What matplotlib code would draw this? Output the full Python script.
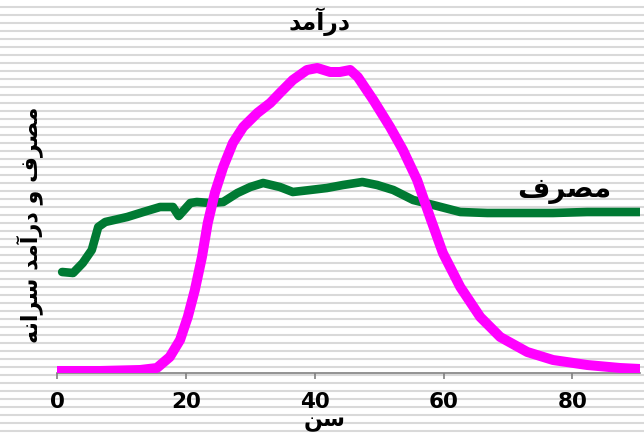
import numpy as np
import matplotlib
matplotlib.use("Agg")
import matplotlib.pyplot as plt

# age (years) and per-capita values
income_age = [0, 6.7, 12.9, 15.5, 17.5, 19.1, 20.3, 21.4, 22.5, 23.4, 24.5, 25.8,
              27.3, 28.9, 31.1, 33.1, 34.6, 36.6, 38.8, 40.4, 42.4, 43.9, 45.5,
              46.7, 49.1, 51.7, 53.7, 55.9, 57.9, 59.9, 62.6, 65.7, 68.8, 73.0,
              77.0, 82.3, 87.4, 90.5]
income_val = [2, 2, 3, 5, 16, 33, 56, 83, 116, 150, 180, 206,
              230, 246, 260, 270, 280, 293, 303, 305, 301, 301, 303,
              296, 273, 246, 223, 193, 156, 120, 86, 56, 36, 21,
              13, 8, 5, 4]

cons_age = [0.8, 2.5, 4.0, 5.4, 6.4, 7.5, 10.9, 13.4, 16.0, 18.0, 18.9, 20.7,
            21.7, 23.8, 25.8, 28.0, 30.0, 32.0, 34.6, 36.6, 39.3, 41.9, 44.4,
            47.4, 49.7, 52.2, 55.3, 58.4, 62.6, 66.8, 71.9, 77.0, 82.3, 90.5]
cons_val = [101, 100, 110, 123, 146, 151, 156, 161, 166, 166, 157, 170,
            171, 170, 171, 180, 186, 190, 186, 181, 183, 185, 188,
            191, 188, 183, 173, 168, 161, 160, 160, 160, 161, 161]

x_ticks = [0, 20, 40, 60, 80]

title_txt = "درآمد"
cons_txt = "مصرف"
ylabel_txt = "مصرف و درآمد سرانه"
xlabel_txt = "سن"

# simple Arabic shaping (matplotlib has no text shaping)
FORMS = {  # isolated, final, initial, medial
    "ا": ("\uFE8D", "\uFE8E", None, None),
    "آ": ("\uFE81", "\uFE82", None, None),
    "د": ("\uFEA9", "\uFEAA", None, None),
    "ر": ("\uFEAD", "\uFEAE", None, None),
    "و": ("\uFEED", "\uFEEE", None, None),
    "م": ("\uFEE1", "\uFEE2", "\uFEE3", "\uFEE4"),
    "ص": ("\uFEB9", "\uFEBA", "\uFEBB", "\uFEBC"),
    "ف": ("\uFED1", "\uFED2", "\uFED3", "\uFED4"),
    "س": ("\uFEB1", "\uFEB2", "\uFEB3", "\uFEB4"),
    "ن": ("\uFEE5", "\uFEE6", "\uFEE7", "\uFEE8"),
    "ه": ("\uFEE9", "\uFEEA", "\uFEEB", "\uFEEC"),
}


def shape(text):
    out = []
    for i, ch in enumerate(text):
        if ch not in FORMS:
            out.append(ch)
            continue
        prev = text[i - 1] if i > 0 else ""
        nxt = text[i + 1] if i + 1 < len(text) else ""
        join_prev = prev in FORMS and FORMS[prev][2] is not None
        join_next = nxt in FORMS and FORMS[ch][2] is not None
        iso, fin, ini, med = FORMS[ch]
        if join_prev and join_next:
            out.append(med)
        elif join_prev:
            out.append(fin)
        elif join_next:
            out.append(ini)
        else:
            out.append(iso)
    return "".join(reversed(out))


W, H = 644, 436
fig = plt.figure(figsize=(W / 100, H / 100), dpi=100)

# striped background over the whole figure
bg = fig.add_axes([0, 0, 1, 1], zorder=0)
bg.set_xlim(0, W)
bg.set_ylim(H, 0)
bg.hlines(np.arange(7.3, H, 8), 0, W, color="#d9d9d9", linewidth=1.5)
bg.axis("off")

ax = fig.add_axes([57 / W, (H - 373) / H, (640 - 57) / W, (373 - 40) / H], zorder=1)
ax.patch.set_alpha(0)
ax.plot(income_age, income_val, color="#ff00ff", linewidth=7.2,
        solid_capstyle="round", solid_joinstyle="round", zorder=3)
ax.plot(cons_age, cons_val, color="#007a33", linewidth=6.2,
        solid_capstyle="round", solid_joinstyle="round", zorder=2)

ax.set_xlim(0, 90.5)
ax.set_ylim(0, 333)
ax.set_xticks(x_ticks)
ax.set_yticks([])
for s in ["top", "right", "left"]:
    ax.spines[s].set_visible(False)
ax.spines["bottom"].set_color("#808080")
ax.spines["bottom"].set_linewidth(1.2)
ax.tick_params(axis="x", direction="out", length=4.5, width=1.2, color="#808080",
               pad=9, labelsize=15.5)
for lab in ax.get_xticklabels():
    lab.set_fontweight("bold")

ax.text(78.7, 183, shape(cons_txt), fontsize=20, fontweight="bold",
        ha="center", va="center")

fig.text(320 / W, 1 - 22 / H, shape(title_txt), fontsize=17, fontweight="bold",
         ha="center", va="center")
fig.text(30 / W, 1 - 225 / H, shape(ylabel_txt), fontsize=16, fontweight="bold",
         rotation=90, ha="center", va="center")
fig.text(325 / W, 1 - 422 / H, shape(xlabel_txt), fontsize=16, fontweight="bold",
         ha="center", va="center")

fig.savefig("out.png", dpi=100)
